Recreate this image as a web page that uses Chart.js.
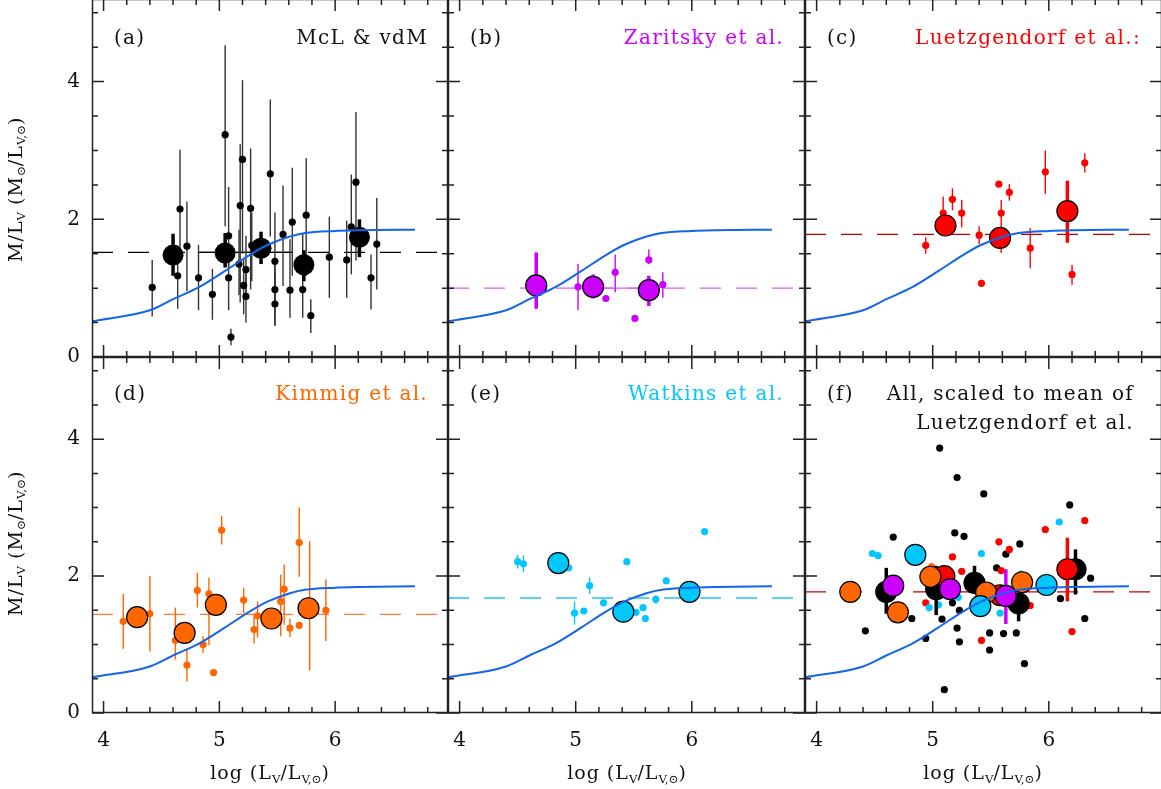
<!DOCTYPE html>
<html>
<head>
<meta charset="utf-8">
<script src="https://cdn.jsdelivr.net/npm/chart.js@4.4.1/dist/chart.umd.min.js"></script>
<style>
body{margin:0;background:#fff;width:1161px;height:789px;overflow:hidden;position:relative;font-family:"DejaVu Serif",serif;color:#111}
canvas{position:absolute}
.lab{position:absolute;font-size:20px;line-height:20px;letter-spacing:1.3px;white-space:nowrap}
.xt{position:absolute;width:300px;text-align:center;font-size:19px;line-height:20px;letter-spacing:1px;white-space:nowrap}
.yt{position:absolute;width:300px;text-align:center;font-size:19px;line-height:20px;letter-spacing:1px;white-space:nowrap;transform:rotate(-90deg)}
sub{font-size:0.62em;vertical-align:-0.3em;letter-spacing:0}
</style>
</head>
<body>
<canvas id="pd" width="448" height="432" style="left:0;top:357px"></canvas>
<canvas id="pe" width="357" height="432" style="left:448px;top:357px"></canvas>
<canvas id="pf" width="357" height="432" style="left:805px;top:357px"></canvas>
<canvas id="pa" width="448" height="373" style="left:0;top:-1px"></canvas>
<canvas id="pb" width="357" height="358" style="left:448px;top:-1px"></canvas>
<canvas id="pc" width="357" height="358" style="left:805px;top:-1px"></canvas>

<div class="lab" style="left:114px;top:27px">(a)</div>
<div class="lab" style="right:733px;top:27px">McL &amp; vdM</div>
<div class="lab" style="left:470px;top:27px">(b)</div>
<div class="lab" style="right:377px;top:27px;color:#cc00ff">Zaritsky et al.</div>
<div class="lab" style="left:827px;top:27px">(c)</div>
<div class="lab" style="right:20px;top:27px;color:#ff0000">Luetzgendorf et al.:</div>
<div class="lab" style="left:114px;top:383px">(d)</div>
<div class="lab" style="right:733px;top:383px;color:#ff6600">Kimmig et al.</div>
<div class="lab" style="left:470px;top:383px">(e)</div>
<div class="lab" style="right:377px;top:383px;color:#00c8ff">Watkins et al.</div>
<div class="lab" style="left:827px;top:383px">(f)</div>
<div class="lab" style="right:27px;top:383px">All, scaled to mean of</div>
<div class="lab" style="right:27px;top:412px">Luetzgendorf et al.</div>

<div class="xt" style="left:120px;top:762px">log (L<sub>V</sub>/L<sub>V,⊙</sub>)</div>
<div class="xt" style="left:477px;top:762px">log (L<sub>V</sub>/L<sub>V,⊙</sub>)</div>
<div class="xt" style="left:833px;top:762px">log (L<sub>V</sub>/L<sub>V,⊙</sub>)</div>
<div class="yt" style="left:-132px;top:176px">M/L<sub>V</sub> (M<sub>⊙</sub>/L<sub>V,⊙</sub>)</div>
<div class="yt" style="left:-132px;top:530px">M/L<sub>V</sub> (M<sub>⊙</sub>/L<sub>V,⊙</sub>)</div>

<script>
// model curve (same in every panel)
const curveX = [3.90, 4.40, 4.60, 4.82, 5.05, 5.25, 5.42, 5.61, 5.74, 6.00, 6.20, 6.69];
const curveY = [0.52, 0.68, 0.84, 1.01, 1.25, 1.47, 1.63, 1.75, 1.80, 1.83, 1.84, 1.85];

// (a) McL & vdM
const aX  = [4.42,4.66,4.64,4.72,4.82,4.94,5.05,5.08,5.08,5.10,5.18,5.20,5.17,5.21,5.23,5.23,5.27,5.28,5.44,5.48,5.48,5.48,5.55,5.61,5.63,5.72,5.75,5.79,5.95,6.10,6.14,6.18,6.31,6.36];
const aY  = [1.01,2.15,1.18,1.61,1.15,0.91,3.23,1.76,1.15,0.29,2.20,2.87,1.35,1.04,1.27,0.88,2.16,1.62,2.66,1.39,0.98,0.77,1.78,0.97,1.96,0.98,2.06,0.60,1.45,1.41,1.89,2.54,1.15,1.64];
const aLo = [0.59,1.55,0.70,0.96,0.68,0.54,1.90,1.30,0.68,0.17,0.79,1.50,0.90,0.62,0.90,0.50,0.98,1.10,1.75,0.66,0.47,0.45,1.03,0.57,1.18,0.57,1.18,0.35,0.86,0.86,1.20,1.40,0.69,0.98];
const aHi = [1.41,3.01,1.62,2.26,1.63,1.28,4.53,2.47,1.45,0.41,3.09,4.02,1.85,1.42,1.76,1.26,3.03,2.10,3.74,2.10,1.42,1.22,2.49,1.71,2.75,1.80,2.89,0.84,2.04,1.98,2.65,3.56,1.49,2.31];
const aBigX  = [4.60,5.05,5.36,5.73,6.21];
const aBigY  = [1.48,1.51,1.58,1.34,1.74];
const aBigLo = [1.18,1.30,1.35,1.10,1.45];
const aBigHi = [1.79,1.80,1.82,1.55,2.00];
const aMean = 1.52;
const aSpan = [4.82, 5.63];

// (b) Zaritsky et al.
const bX  = [5.02,5.26,5.34,5.51,5.63,5.75];
const bY  = [1.02,0.85,1.23,0.56,1.41,1.05];
const bLo = [0.68,0.80,0.94,null,1.35,0.86];
const bHi = [1.35,0.90,1.49,null,1.56,1.23];
const bBigX  = [4.66,5.15,5.63];
const bBigY  = [1.04,1.02,0.97];
const bBigLo = [0.70,0.85,0.74];
const bBigHi = [1.52,1.20,1.18];
const bMean = 1.00;
const bSpan = [5.03, 5.59];

// (c) Luetzgendorf et al.
const cX  = [4.94,5.09,5.17,5.25,5.40,5.42,5.57,5.59,5.66,5.84,5.97,6.20,6.31];
const cY  = [1.62,2.09,2.29,2.09,1.77,1.07,2.51,2.09,2.39,1.58,2.69,1.20,2.82];
const cLo = [1.50,1.85,2.13,1.88,1.64,null,null,1.51,2.27,1.29,2.37,1.05,2.68];
const cHi = [1.74,2.33,2.45,2.28,1.90,null,null,2.28,2.51,1.87,3.00,1.34,2.96];
const cBigX  = [5.11,5.58,6.16];
const cBigY  = [1.91,1.73,2.12];
const cBigLo = [null,null,1.66];
const cBigHi = [null,null,2.56];
const cMean = 1.78;

// (d) Kimmig et al.
const dX  = [4.17,4.40,4.62,4.72,4.81,4.86,4.91,4.95,5.02,5.21,5.30,5.33,5.53,5.56,5.61,5.69,5.69,5.78,5.92];
const dY  = [1.34,1.45,1.06,0.70,1.79,1.00,1.74,0.59,2.67,1.65,1.22,1.42,1.63,1.81,1.24,2.49,1.28,1.54,1.50];
const dLo = [0.94,0.90,0.78,0.46,1.54,0.88,0.99,0.56,2.46,1.46,1.02,1.10,1.12,1.29,1.11,1.99,null,0.62,1.05];
const dHi = [1.74,2.00,1.54,0.93,2.05,1.12,1.98,0.62,2.88,1.83,1.44,1.63,2.02,2.17,1.38,3.00,null,2.51,1.95];
const dBigX = [4.29,4.70,4.97,5.45,5.77];
const dBigY = [1.40,1.17,1.58,1.38,1.53];
const dMean = 1.44;

// (e) Watkins et al.
const eX  = [4.50,4.55,4.94,4.99,5.07,5.12,5.24,5.44,5.52,5.58,5.60,5.69,5.78,6.11];
const eY  = [2.21,2.18,2.12,1.46,1.49,1.86,1.61,2.21,1.47,1.54,1.38,1.66,1.93,2.65];
const eLo = [2.11,2.06,null,1.29,null,1.74,null,null,null,null,null,1.60,null,null];
const eHi = [2.31,2.30,null,1.63,null,1.98,null,null,null,null,null,1.72,null,null];
const eBigX = [4.85,5.41,5.98];
const eBigY = [2.19,1.48,1.77];
const eMean = 1.68;

// (f) all, scaled to mean of Luetzgendorf et al.
const fBlackX = [4.42,4.66,4.82,4.94,5.06,5.08,5.17,5.19,5.21,5.21,5.23,5.23,5.27,5.44,5.49,5.49,5.55,5.61,5.63,5.72,5.75,5.79,6.10,6.18,6.31,6.36,5.10];
const fBlackY = [1.20,2.57,1.38,1.09,3.87,1.37,1.61,2.63,3.44,1.24,1.50,1.04,2.58,3.20,1.17,0.92,2.12,1.16,2.32,1.17,2.47,0.72,1.67,3.04,1.38,1.97,0.34];
const fRedX  = [4.94,5.17,5.25,5.42,5.57,5.66,5.59,5.84,5.97,6.20,6.31];
const fRedY  = [1.61,2.28,2.07,1.06,2.50,2.39,2.08,1.57,2.68,1.19,2.81];
const fCyanX = [4.48,4.53,4.97,5.05,5.10,5.22,5.42,5.55,5.58,5.76,6.09];
const fCyanY = [2.33,2.30,1.54,1.58,1.97,1.69,2.33,1.63,1.46,2.03,2.79];
const fOrangeX = [4.99];
const fOrangeY = [2.14];
const fBlackBigX  = [4.60,5.03,5.36,5.74,6.23];
const fBlackBigY  = [1.77,1.81,1.90,1.60,2.10];
const fBlackBigLo = [1.45,1.43,1.75,1.34,1.73];
const fBlackBigHi = [2.12,2.15,2.15,1.73,2.39];
const fRedBigX  = [5.10,5.58,6.16];
const fRedBigY  = [2.00,1.72,2.10];
const fRedBigLo = [null,null,1.63];
const fRedBigHi = [null,null,2.56];
const fOrangeBigX = [4.29,4.70,4.98,5.46,5.77];
const fOrangeBigY = [1.77,1.47,1.99,1.76,1.91];
const fCyanBigX = [4.85,5.41,5.98];
const fCyanBigY = [2.31,1.56,1.87];
const fMagBigX  = [4.66,5.15,5.63];
const fMagBigY  = [1.86,1.81,1.71];
const fMagBigLo = [null,null,1.30];
const fMagBigHi = [null,null,2.10];
const fMean = 1.77;

const X_MIN = 3.9, X_MAX = 6.975, Y_MIN = 0, Y_MAX = 5.2;
const FONT = '"DejaVu Serif", serif';
const BLACK = '#000000', MAG = '#cc00ff', RED = '#ff0000', ORANGE = '#ff6600', CYAN = '#00c8ff', BLUE = '#1565e8';

function pts(xs, ys) {
  return xs.map((x, i) => ({x: x, y: ys[i]}));
}

function small(xs, ys, lo, hi, color, order, errColor) {
  return {
    data: pts(xs, ys), order: order,
    pointRadius: 3.6, pointBackgroundColor: color, pointBorderWidth: 0,
    errLo: lo, errHi: hi, errColor: errColor || color, errWidth: 1.4
  };
}

function big(xs, ys, lo, hi, color, order, edge) {
  return {
    data: pts(xs, ys), order: order,
    pointRadius: 10.5, pointBackgroundColor: color,
    pointBorderColor: '#000', pointBorderWidth: edge,
    errLo: lo, errHi: hi, errColor: color, errWidth: 3.5
  };
}

function meanLine(y, color, order) {
  return {
    type: 'line', data: [{x: X_MIN, y: y}, {x: X_MAX, y: y}], order: order,
    borderColor: color, borderWidth: 1.3, borderDash: [21, 15], pointRadius: 0
  };
}

function span(xs, y, color, order) {
  return {
    type: 'line', data: [{x: xs[0], y: y}, {x: xs[1], y: y}], order: order,
    borderColor: color, borderWidth: 1.3, pointRadius: 0
  };
}

function curve() {
  return {
    type: 'line', data: pts(curveX, curveY), order: 0,
    borderColor: BLUE, borderWidth: 2, pointRadius: 0,
    cubicInterpolationMode: 'monotone'
  };
}

// error bars drawn just before each dataset's own points
const errorBars = {
  id: 'errorBars',
  beforeDatasetDraw(chart, args) {
    const ds = chart.data.datasets[args.index];
    if (!ds.errLo) return;
    const ctx = chart.ctx, xs = chart.scales.x, ys = chart.scales.y, a = chart.chartArea;
    ctx.save();
    ctx.beginPath();
    ctx.rect(a.left, a.top, a.right - a.left, a.bottom - a.top);
    ctx.clip();
    ctx.strokeStyle = ds.errColor;
    ctx.lineWidth = ds.errWidth;
    ds.data.forEach((p, i) => {
      if (ds.errLo[i] == null) return;
      const px = xs.getPixelForValue(p.x);
      ctx.beginPath();
      ctx.moveTo(px, ys.getPixelForValue(ds.errLo[i]));
      ctx.lineTo(px, ys.getPixelForValue(ds.errHi[i]));
      ctx.stroke();
    });
    ctx.restore();
  }
};

// box with inward ticks on all four sides
const frame = {
  id: 'frame',
  afterDatasetsDraw(chart) {
    const ctx = chart.ctx, xs = chart.scales.x, ys = chart.scales.y, a = chart.chartArea;
    ctx.save();
    ctx.strokeStyle = '#222';
    ctx.lineWidth = 1.5;
    ctx.strokeRect(a.left + 0.5, a.top + 0.5, a.right - a.left - 1, a.bottom - a.top - 1);
    ctx.beginPath();
    for (let k = 20; k <= 34; k++) {
      const v = k / 5;
      const L = (k % 5 === 0) ? 12 : 6;
      const px = xs.getPixelForValue(v);
      ctx.moveTo(px, a.bottom); ctx.lineTo(px, a.bottom - L);
      ctx.moveTo(px, a.top); ctx.lineTo(px, a.top + L);
    }
    for (let k = 0; k <= 10; k++) {
      const v = k / 2;
      const L = (k % 4 === 0) ? 12 : 6;
      const py = ys.getPixelForValue(v);
      ctx.moveTo(a.left, py); ctx.lineTo(a.left + L, py);
      ctx.moveTo(a.right, py); ctx.lineTo(a.right - L, py);
    }
    ctx.stroke();
    ctx.restore();
  }
};

function noPad(s) {
  s.paddingLeft = 0; s.paddingRight = 0; s.paddingTop = 0; s.paddingBottom = 0;
}

// xMode: 'labels' shows tick labels below, 'room' keeps blank room so the y label "0" is not cut, 'none' hides the axis
function makeChart(id, datasets, xMode, showY) {
  const xHeight = xMode === 'labels' ? 76 : (xMode === 'room' ? 15 : 0);
  return new Chart(document.getElementById(id), {
    type: 'scatter',
    data: {datasets: datasets},
    options: {
      responsive: false,
      animation: false,
      devicePixelRatio: 1,
      layout: {padding: 0, autoPadding: false},
      plugins: {legend: {display: false}, tooltip: {enabled: false}},
      scales: {
        x: {
          type: 'linear', min: X_MIN, max: X_MAX, display: xMode !== 'none',
          grid: {display: false, drawTicks: false, tickLength: 0},
          border: {display: false},
          ticks: {display: xMode === 'labels', stepSize: 1, includeBounds: false, padding: 16, color: '#111', font: {family: FONT, size: 20}},
          afterFit(s) { if (xHeight) s.height = xHeight; noPad(s); }
        },
        y: {
          type: 'linear', min: Y_MIN, max: Y_MAX, display: showY,
          grid: {display: false, drawTicks: false, tickLength: 0},
          border: {display: false},
          ticks: {stepSize: 2, includeBounds: false, padding: 12, color: '#111', font: {family: FONT, size: 20}},
          afterFit(s) { if (showY) s.width = 92; noPad(s); }
        }
      }
    },
    plugins: [errorBars, frame]
  });
}

makeChart('pa', [
  curve(),
  big(aBigX, aBigY, aBigLo, aBigHi, BLACK, 1, 0),
  small(aX, aY, aLo, aHi, BLACK, 2, '#333'),
  span(aSpan, aMean, BLACK, 3),
  meanLine(aMean, BLACK, 4)
], 'room', true);

makeChart('pb', [
  curve(),
  big(bBigX, bBigY, bBigLo, bBigHi, MAG, 1, 1.2),
  small(bX, bY, bLo, bHi, MAG, 2),
  span(bSpan, bMean, '#d65cff', 3),
  meanLine(bMean, '#d65cff', 4)
], 'none', false);

makeChart('pc', [
  curve(),
  big(cBigX, cBigY, cBigLo, cBigHi, RED, 1, 1.2),
  small(cX, cY, cLo, cHi, RED, 2),
  meanLine(cMean, '#c00000', 4)
], 'none', false);

makeChart('pd', [
  curve(),
  big(dBigX, dBigY, null, null, ORANGE, 1, 1.2),
  small(dX, dY, dLo, dHi, ORANGE, 2),
  meanLine(dMean, '#ff7a33', 4)
], 'labels', true);

makeChart('pe', [
  curve(),
  big(eBigX, eBigY, null, null, CYAN, 1, 1.2),
  small(eX, eY, eLo, eHi, CYAN, 2),
  meanLine(eMean, '#22c4ee', 4)
], 'labels', false);

makeChart('pf', [
  curve(),
  big(fMagBigX, fMagBigY, fMagBigLo, fMagBigHi, MAG, 1, 1.2),
  big(fCyanBigX, fCyanBigY, null, null, CYAN, 2, 1.2),
  big(fOrangeBigX, fOrangeBigY, null, null, ORANGE, 3, 1.2),
  big(fRedBigX, fRedBigY, fRedBigLo, fRedBigHi, RED, 4, 1.2),
  big(fBlackBigX, fBlackBigY, fBlackBigLo, fBlackBigHi, BLACK, 5, 1.2),
  small(fOrangeX, fOrangeY, null, null, ORANGE, 6),
  small(fCyanX, fCyanY, null, null, CYAN, 7),
  small(fRedX, fRedY, null, null, RED, 8),
  small(fBlackX, fBlackY, null, null, BLACK, 9),
  meanLine(fMean, '#c00000', 10)
], 'labels', false);
</script>
</body>
</html>
